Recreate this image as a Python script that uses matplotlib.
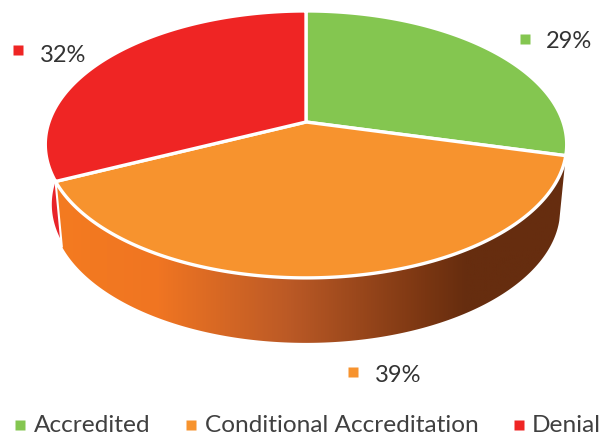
import numpy as np
import matplotlib
matplotlib.use('Agg')
import matplotlib.pyplot as plt
from matplotlib.colors import LinearSegmentedColormap
from matplotlib.patches import Polygon

categories = ['Accredited', 'Conditional Accreditation', 'Denial']
shares = [29, 39, 32]
colors = ['#84C650', '#F7932E', '#EF2524']
label_pos = [(546, 41), (375, 376), (40, 55)]
marker_pos = [(525, 39), (353, 372), (18, 50)]
legend_text_x = [34, 205, 532]
legend_marker_x = [20, 191, 519]

# pie geometry in pixels, perspective disc
cx, cy = 306, 122
rx, ry, k = 257, 129.7, 0.168
depth = 65
base_scale = 0.975


def rim(t0, t1, shift=0, scale=1.0, n=200):
    t = np.radians(np.linspace(t0, t1, n))
    u, v = np.sin(t), np.cos(t)
    return np.column_stack([cx + scale*rx*u/(1 + k*v), cy + shift - ry*v/(1 + k*v)])


plt.rcParams['font.family'] = ['Lato', 'DejaVu Sans']
fig = plt.figure(figsize=(6.03, 4.38), dpi=100)
ax = fig.add_axes([0, 0, 1, 1])
ax.set_xlim(0, 603)
ax.set_ylim(438, 0)
ax.axis('off')

edges = np.cumsum([0] + shares)*3.6

# red sliver of the wall on the left
red_wall = np.vstack([rim(edges[2], 272), rim(272, edges[2], depth - 5, base_scale)])
ax.add_patch(Polygon(red_wall, closed=True, fc='#E8242A', ec='none', zorder=1))

# orange wall with a shade running left to right
wall = np.vstack([rim(edges[1], edges[2]), rim(edges[2], edges[1], depth, base_scale)])
wall_patch = Polygon(wall, closed=True, fc='none', ec='none', transform=ax.transData)
ax.add_patch(wall_patch)
shade = LinearSegmentedColormap.from_list(
    'wall', [(0, '#F47B20'), (0.2, '#F07522'), (0.45, '#BC5A26'), (0.72, '#7A3612'), (0.8, '#662D0F'), (1, '#662D0F')])
img = ax.imshow(np.linspace(0, 1, 256)[None, :], cmap=shade, extent=(55, 570, 350, 150), aspect='auto', zorder=2)
img.set_clip_path(wall_patch)
ax.set_xlim(0, 603)
ax.set_ylim(438, 0)

# white seam between the red and orange wall
seam = np.vstack([rim(edges[2], edges[2], n=1), rim(edges[2], edges[2], depth, base_scale, n=1)])
ax.plot(seam[:, 0], seam[:, 1], color='white', lw=1.5, zorder=2.5)

# top of the pie
for i in range(3):
    pts = np.vstack([[cx, cy], rim(edges[i], edges[i+1])])
    ax.add_patch(Polygon(pts, closed=True, fc=colors[i], ec='white', lw=2.4, joinstyle='round', zorder=3))

for i in range(3):
    ax.plot(*marker_pos[i], 's', ms=6.5, color=colors[i], mec='none', zorder=4)
    ax.text(label_pos[i][0], label_pos[i][1], '%d%%' % shares[i], fontsize=17, color='#333333',
            va='center', ha='left', zorder=4)
    ax.plot(legend_marker_x[i], 425, 's', ms=6.5, color=colors[i], mec='none', zorder=4)
    ax.text(legend_text_x[i], 425, categories[i], fontsize=17.6, color='#404040', va='center', ha='left', zorder=4)

fig.savefig('out.png', dpi=100)
